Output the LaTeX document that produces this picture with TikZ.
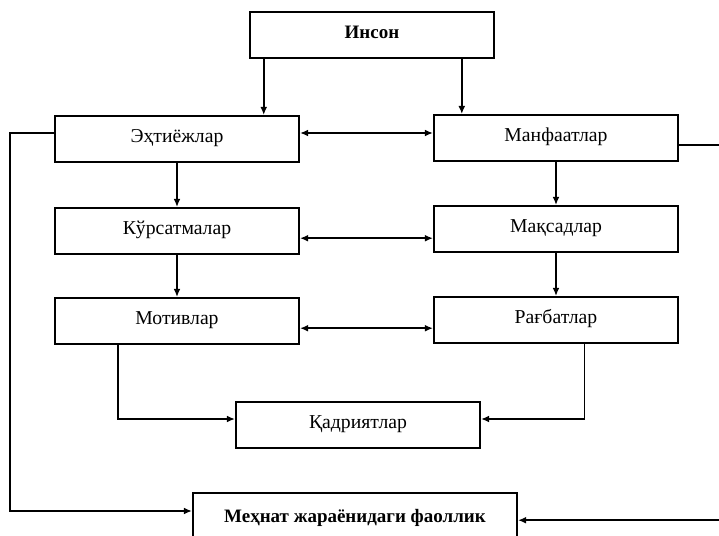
\documentclass[tikz,border=0pt]{standalone}
\usepackage{fontspec}
\setmainfont{Liberation Serif}
\usetikzlibrary{calc,arrows.meta}
\tikzset{
	box/.style={draw, line width=0.5mm, minimum width=6.1cm, minimum height=1.15cm, text height=1.5ex, text depth=0.5ex, font=\fontsize{14}{16}\selectfont},
	arr/.style={line width=0.4mm, -{Latex[length=2mm,width=1.7mm]}},
	darr/.style={line width=0.4mm, {Latex[length=2mm,width=1.7mm]}-{Latex[length=2mm,width=1.7mm]}},
}

\begin{document}
\begin{tikzpicture}[x=0.025cm, y=-0.025cm]
			%%%%% START %%%%%
			\useasboundingbox (0, 0) rectangle (719, 535);
			
			\node[box, font=\fontsize{13.5}{15}\selectfont\bfseries] (inson) at (372, 35) {Инсон};
			
			\node[box] (ehtiyoj) at (177, 139) {Эҳтиёжлар};
			\node[box] (manfaat) at (556, 138) {Манфаатлар};
			
			\node[box] (kursatma) at (177, 231) {Кўрсатмалар};
			\node[box] (maqsad) at (556, 229) {Мақсадлар};
			
			\node[box] (motiv) at (177, 321) {Мотивлар};
			\node[box] (ragbat) at (556, 320) {Рағбатлар};
			
			\node[box] (qadriyat) at (358, 425) {Қадриятлар};
			\node[box, minimum width=8.1cm, minimum height=1.3cm, font=\fontsize{13.5}{15}\selectfont\bfseries] (mehnat) at (355, 519) {Меҳнат жараёнидаги фаоллик};
			
			\coordinate (i1) at ($(inson.south west)!0.06!(inson.south east)$);
			\coordinate (i2) at ($(inson.south west)!0.865!(inson.south east)$);
			\coordinate (m1) at ($(motiv.south west)!0.26!(motiv.south east)$);
			\coordinate (r1) at ($(ragbat.south west)!0.615!(ragbat.south east)$);
			\coordinate (e1) at ([yshift=0.15cm]ehtiyoj.west);
			\coordinate (f1) at ([yshift=-0.18cm]manfaat.east);
			\coordinate (h1) at ([yshift=0.2cm]mehnat.west);
			\coordinate (h2) at ([yshift=-0.03cm]mehnat.east);
			\coordinate (lft) at (10, 0);
			\coordinate (rgt) at (740, 0);
			
			\draw[arr] (i1) -- (i1 |- ehtiyoj.north);
			\draw[arr] (i2) -- (i2 |- manfaat.north);
			\draw[arr] (ehtiyoj) -- (kursatma);
			\draw[arr] (manfaat) -- (maqsad);
			\draw[arr] (kursatma) -- (motiv);
			\draw[arr] (maqsad) -- (ragbat);
			
			\draw[darr] (e1 -| ehtiyoj.east) -- (e1 -| manfaat.west);
			\draw[darr] ([yshift=-0.18cm]kursatma.east) -- ([yshift=-0.18cm]kursatma.east -| maqsad.west);
			\draw[darr] ([yshift=-0.18cm]motiv.east) -- ([yshift=-0.18cm]motiv.east -| ragbat.west);
			
			\draw[arr] (m1) |- ([yshift=0.15cm]qadriyat.west);
			\draw[arr] (r1) |- ([yshift=0.15cm]qadriyat.east);
			
			\draw[arr] (e1) -- (e1 -| lft) |- (h1);
			\draw[arr] (f1) -- (f1 -| rgt) |- (h2);
			
			%%%%% END %%%%%
\end{tikzpicture}
\end{document}
